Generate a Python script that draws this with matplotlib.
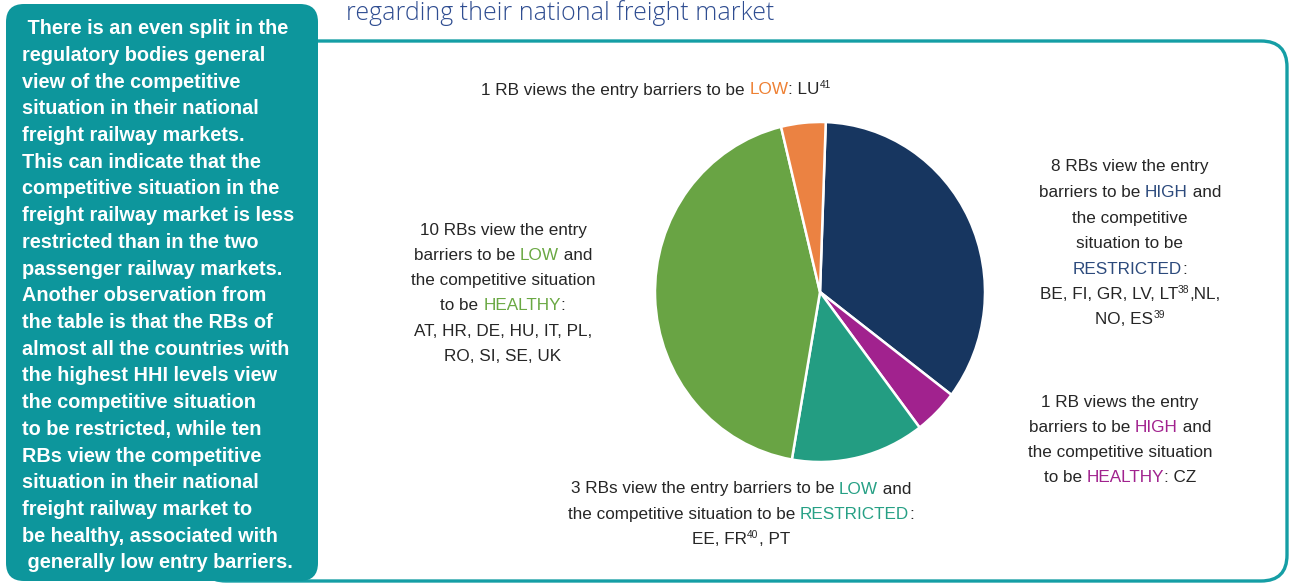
import matplotlib
matplotlib.use("Agg")
import matplotlib.pyplot as plt
from matplotlib.patches import FancyBboxPatch

W, H = 1290, 585

# pie slices, clockwise from the top
groups = ["HIGH / RESTRICTED", "HIGH / HEALTHY", "LOW / RESTRICTED", "LOW / HEALTHY", "LOW"]
counts = [8, 1, 3, 10, 1]
colors = ["#173660", "#a1228e", "#239d82", "#69a444", "#eb8242"]

TEAL = "#0d969c"
K = "#262626"
C_NAVY, C_PURP, C_TEAL, C_GREEN, C_ORNG = "#2c4a7c", "#a1228e", "#26a085", "#6aa843", "#ee8033"

title = "regarding their national freight market"

side_text = [
    " There is an even split in the",
    "regulatory bodies general",
    "view of the competitive",
    "situation in their national",
    "freight railway markets.",
    "This can indicate that the",
    "competitive situation in the",
    "freight railway market is less",
    "restricted than in the two",
    "passenger railway markets.",
    "Another observation from",
    "the table is that the RBs of",
    "almost all the countries with",
    "the highest HHI levels view",
    "the competitive situation",
    "to be restricted, while ten",
    "RBs view the competitive",
    "situation in their national",
    "freight railway market to",
    "be healthy, associated with",
    " generally low entry barriers.",
]

# (text, colour) segments per line; a third item marks a superscript
label_top = [
    [("1 RB views the entry barriers to be ", K), ("LOW", C_ORNG), (": LU", K), ("41", K, 1)],
]
label_high_restr = [
    [("8 RBs view the entry", K)],
    [("barriers to be ", K), ("HIGH", C_NAVY), (" and", K)],
    [("the competitive", K)],
    [("situation to be", K)],
    [("RESTRICTED", C_NAVY), (":", K)],
    [("BE, FI, GR, LV, LT", K), ("38", K, 1), (",NL,", K)],
    [("NO, ES", K), ("39", K, 1)],
]
label_high_healthy = [
    [("1 RB views the entry", K)],
    [("barriers to be ", K), ("HIGH", C_PURP), (" and", K)],
    [("the competitive situation", K)],
    [("to be ", K), ("HEALTHY", C_PURP), (": CZ", K)],
]
label_low_restr = [
    [("3 RBs view the entry barriers to be ", K), ("LOW", C_TEAL), (" and", K)],
    [("the competitive situation to be ", K), ("RESTRICTED", C_TEAL), (":", K)],
    [("EE, FR", K), ("40", K, 1), (", PT", K)],
]
label_low_healthy = [
    [("10 RBs view the entry", K)],
    [("barriers to be ", K), ("LOW", C_GREEN), (" and", K)],
    [("the competitive situation", K)],
    [("to be ", K), ("HEALTHY", C_GREEN), (":", K)],
    [("AT, HR, DE, HU, IT, PL,", K)],
    [("RO, SI, SE, UK", K)],
]

LFONT = "Liberation Sans"
LSIZE = 12.3

fig = plt.figure(figsize=(W / 100, H / 100), dpi=100)
bg = fig.add_axes([0, 0, 1, 1])
bg.set_xlim(0, W)
bg.set_ylim(H, 0)
bg.axis("off")

# outer rounded frame
bg.add_patch(FancyBboxPatch((200, 41), 1087, 540, boxstyle="round,pad=0,rounding_size=26",
                            fc="white", ec="#159ea5", lw=2.4))
# left teal box
bg.add_patch(FancyBboxPatch((6, 4), 312, 577, boxstyle="round,pad=0,rounding_size=18",
                            fc=TEAL, ec="none"))

bg.text(346, 19.5, title, color="#2f4d91", fontsize=18, family="Open Sans",
        fontweight="light", va="baseline")

for i, line in enumerate(side_text):
    bg.text(22, 34.3 + i * 26.7, line, color="white", fontsize=14.3, fontweight="bold",
            family="Liberation Sans", va="baseline")

renderer = fig.canvas.get_renderer()


def advance(t):
    # advance width of the string, spaces included: |s| minus ||
    s = t.get_text()
    t.set_text("|" + s + "|")
    w1 = t.get_window_extent(renderer).width
    t.set_text("||")
    w2 = t.get_window_extent(renderer).width
    t.set_text(s)
    return w1 - w2


def rich_block(cx, y0, lines, pitch):
    for i, segs in enumerate(lines):
        base = y0 + i * pitch
        items = []
        for seg in segs:
            sup = len(seg) > 2
            t = bg.text(0, base - (6 if sup else 0), seg[0], color=seg[1],
                        fontsize=LSIZE * 0.6 if sup else LSIZE, family=LFONT,
                        va="baseline", ha="left")
            items.append(t)
        widths = [advance(t) for t in items]
        x = cx - sum(widths) / 2
        for t, w in zip(items, widths):
            t.set_x(x)
            x += w


rich_block(656, 94.5, label_top, 25.5)
rich_block(1130, 171.5, label_high_restr, 25.5)
rich_block(1120, 406.5, label_high_healthy, 25.2)
rich_block(741, 493.5, label_low_restr, 25.5)
rich_block(503, 234.5, label_low_healthy, 25.3)

# pie
cx, cy, rx, ry = 820, 292, 165, 170
ax = fig.add_axes([(cx - rx) / W, (H - cy - ry) / H, 2 * rx / W, 2 * ry / H])
ax.pie(counts, colors=colors, startangle=88, counterclock=False,
       wedgeprops=dict(edgecolor="white", linewidth=1.8))
ax.set_aspect("auto")
ax.set_xlim(-1.0, 1.0)
ax.set_ylim(-1.0, 1.0)
ax.axis("off")

fig.savefig("out.png", dpi=100)
